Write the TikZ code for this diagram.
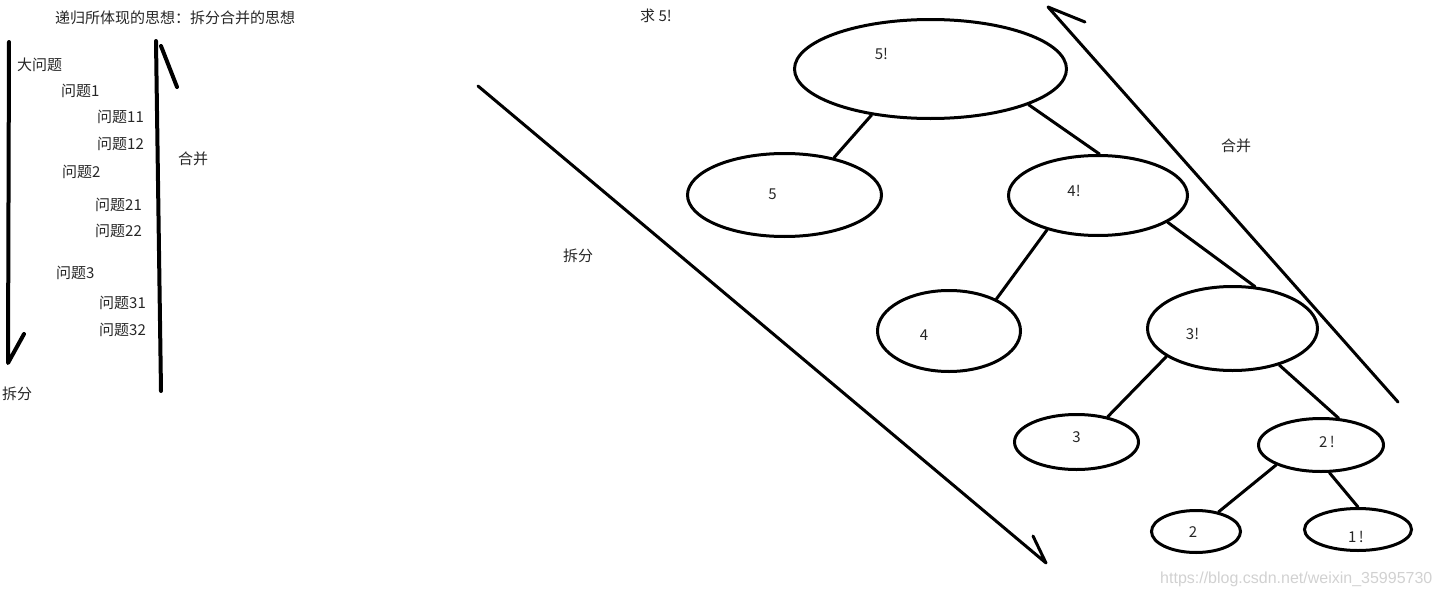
\documentclass[tikz,border=0pt]{standalone}
\usepackage{fontspec}
\setmainfont{Noto Sans CJK SC}
\newfontfamily\urlfont{Liberation Sans}
\usetikzlibrary{shapes.geometric}
\tikzset{
  bubble/.style={ellipse, draw=black, line width=3pt, inner sep=0pt},
  note/.style={inner sep=0pt, anchor=west, text=black!85, font=\fontsize{15}{18}\selectfont},
  val/.style={inner sep=0pt, text=black!85, font=\fontsize{15}{18}\selectfont},
  branch/.style={line width=3pt, line cap=round},
  penline/.style={line width=3pt, line cap=round, line join=round},
  fatline/.style={line width=4pt, line cap=round, line join=round},
}

\begin{document}
\begin{tikzpicture}[x=1pt,y=-1pt]
  \useasboundingbox (0,0) rectangle (1441,597);

  % left: outline of the problem
  \node[note] (title) at (55,18) {递归所体现的思想：拆分合并的思想};
  \foreach \n/\x/\y/\t in {big/17/65/大问题, p1/61/91/问题1, p11/97/117/问题11,
      p12/97/144/问题12, p2/62/172/问题2, p21/95/205/问题21, p22/95/231/问题22,
      p3/56/273/问题3, p31/99/303/问题31, p32/99/330/问题32}
    \node[note] (\n) at (\x,\y) {\t};
  \node[note] (splitL) at (2,394) {拆分};
  \node[note] (mergeL) at (178,159) {合并};

  \coordinate (dnTop) at (9,42);
  \coordinate (dnTip) at (8,363);
  \coordinate (dnBarb) at (24,334);
  \draw[fatline] (dnTop) -- (dnTip) -- (dnBarb);
  \coordinate (upBot) at (161,391);
  \coordinate (upTip) at (156,41);
  \coordinate (upBarbA) at (161,46);
  \coordinate (upBarbB) at (177,87);
  \draw[fatline] (upBot) -- (upTip);
  \draw[fatline] (upBarbA) -- (upBarbB);

  % right: the tree for 5!
  \node[note] (ask) at (640,16) {求 5!};
  \node[bubble, minimum width=272pt, minimum height=99pt,
        label={[val,xshift=-49pt,yshift=15pt]center:5!}] (f5) at (930.5,69) {};
  \node[bubble, minimum width=194pt, minimum height=83pt,
        label={[val,xshift=-12pt,yshift=1pt]center:5}] (n5) at (784.5,195) {};
  \node[bubble, minimum width=179pt, minimum height=80pt,
        label={[val,xshift=-24pt,yshift=5pt]center:4!}] (f4) at (1098,195.5) {};
  \node[bubble, minimum width=143pt, minimum height=81pt,
        label={[val,xshift=-25pt,yshift=-4pt]center:4}] (n4) at (949,331) {};
  \node[bubble, minimum width=170pt, minimum height=84pt,
        label={[val,xshift=-40pt,yshift=-5pt]center:3!}] (f3) at (1232.5,328.5) {};
  \node[bubble, minimum width=124pt, minimum height=55pt,
        label={[val,xshift=0pt,yshift=5pt]center:3}] (n3) at (1076.5,442) {};
  \node[bubble, minimum width=125pt, minimum height=53pt,
        label={[val,xshift=6pt,yshift=3pt]center:2\,!}] (f2) at (1321,445) {};
  \node[bubble, minimum width=89pt, minimum height=42pt,
        label={[val,xshift=-3pt,yshift=-1pt]center:2}] (n2) at (1196,531.5) {};
  \node[bubble, minimum width=107pt, minimum height=42pt,
        label={[val,xshift=-2pt,yshift=-7pt]center:1\,!}] (f1) at (1358,529.5) {};

  \draw[branch] (f5.-142) -- (n5.37);
  \draw[branch] (f5.-20) -- (f4.88);
  \draw[branch] (f4.-146) -- (n4.34);
  \draw[branch] (f4.-21) -- (f3.62);
  \draw[branch] (f3.-157) -- (n3.39);
  \draw[branch] (f3.-38) -- (f2.57);
  \draw[branch] (f2.-156) -- (n2.41);
  \draw[branch] (f2.-73) -- (f1.90);

  % split and merge arrows
  \node[note] (splitR) at (563,256) {拆分};
  \node[note] (mergeR) at (1221,146) {合并};
  \coordinate (spTop) at (478,86);
  \coordinate (spTip) at (1046,563);
  \coordinate (spBarb) at (1033,536);
  \draw[penline] (spTop) -- (spTip) -- (spBarb);
  \coordinate (mgBot) at (1398,402);
  \coordinate (mgTip) at (1048,7);
  \coordinate (mgBarb) at (1085,22);
  \draw[penline] (mgBot) -- (mgTip) -- (mgBarb);

  \node[note, text=black!18, font=\urlfont\fontsize{16}{19}\selectfont] (mark) at (1160,579)
    {https://blog.csdn.net/weixin\_35995730};
\end{tikzpicture}
\end{document}
